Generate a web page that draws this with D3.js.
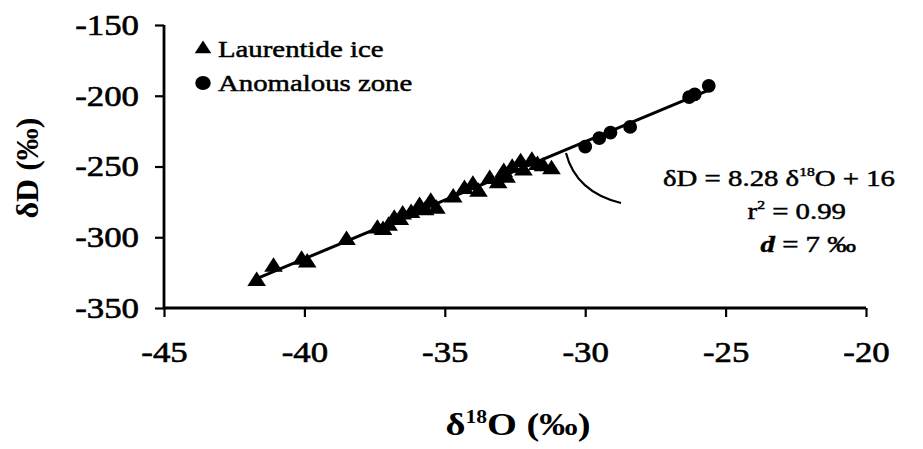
<!DOCTYPE html>
<html>
<head>
<meta charset="utf-8">
<script src="https://cdn.jsdelivr.net/npm/d3@7"></script>
<style>
  html, body { margin: 0; padding: 0; background: #fff; }
  svg { display: block; }
</style>
</head>
<body>
<svg id="chart" width="923" height="449" font-family="Liberation Serif"></svg>
<script>
// Stable isotope data: δ18O (‰) vs δD (‰)
const laurentideO = [-41.7, -41.1, -40.1, -39.9, -38.5, -37.4, -37.2, -37.0, -36.8, -36.6, -36.5, -36.2, -35.9, -35.7, -35.5, -35.3, -34.7, -34.3, -34.0, -33.8, -33.4, -33.1, -32.9, -32.8, -32.6, -32.3, -32.2, -31.9, -31.7, -31.5, -31.2];
const laurentideD = [-331, -321, -316, -318, -302, -294, -295, -292, -287, -288, -284, -283, -278, -281, -275, -280, -272, -266, -263, -268, -259, -262, -254, -258, -251, -247, -253, -246, -249, -250, -252];
const anomalousO = [-30.0, -29.5, -29.1, -28.4, -26.3, -26.1, -25.6];
const anomalousD = [-236, -230, -226, -222, -201, -199, -193];

const xTicks = [-45, -40, -35, -30, -25, -20];
const yTicks = [-350, -300, -250, -200, -150];

// Regression line δD = 8.28 δ18O + 16
const fitSlope = 8.28;
const fitIntercept = 16;
const fitRange = [-41.7, -25.6];

const FONT = '"Liberation Serif"';
const SX = 1.2;              // horizontal widening of the lettering
const svg = d3.select("#chart");

const x = d3.scaleLinear().domain([-45, -20]).range([164, 866]);
const y = d3.scaleLinear().domain([-350, -150]).range([308, 25]);

const fmt = d => (d < 0 ? "-" : "") + Math.abs(d);

// Axes
const xAxis = svg.append("g")
  .attr("transform", `translate(0,${y(-350)})`)
  .call(d3.axisBottom(x).tickValues(xTicks).tickSize(9).tickPadding(24).tickFormat(fmt));
const yAxis = svg.append("g")
  .attr("transform", `translate(${x(-45)},0)`)
  .call(d3.axisLeft(y).tickValues(yTicks).tickSize(9).tickPadding(18).tickFormat(fmt));

[xAxis, yAxis].forEach(g => {
  g.attr("font-family", "Liberation Serif").attr("font-size", 29);
  g.select(".domain").remove();
  g.selectAll(".tick line").attr("stroke", "#000").attr("stroke-width", 2.2);
  g.selectAll(".tick text")
    .style("font-family", FONT)
    .style("font-size", "29px")
    .attr("fill", "#000")
    .attr("stroke", "#000").attr("stroke-width", 0.6)
    .attr("transform", `scale(${SX},1)`);
});
// keep the y labels' right edge at the same offset after widening
yAxis.selectAll(".tick text").attr("x", -(9 + 16) / SX);

svg.append("line").attr("x1", x(-45)).attr("x2", x(-20)).attr("y1", y(-350)).attr("y2", y(-350))
  .attr("stroke", "#000").attr("stroke-width", 2.8);
svg.append("line").attr("x1", x(-45)).attr("x2", x(-45)).attr("y1", y(-350)).attr("y2", y(-150))
  .attr("stroke", "#000").attr("stroke-width", 2.8);

// Axis titles
svg.append("text")
  .attr("transform", `translate(518,435) scale(${SX},1)`)
  .attr("text-anchor", "middle")
  .style("font-family", FONT).style("font-size", "32px").style("font-weight", "bold")
  .html('δ<tspan dy="-12" font-size="18">18</tspan><tspan dy="12">O (‰)</tspan>');

svg.append("text")
  .attr("transform", "translate(38,168) rotate(-90)")
  .attr("text-anchor", "middle")
  .style("font-family", FONT).style("font-size", "32px").style("font-weight", "bold")
  .text("δD (‰)");

// Regression line
svg.append("line")
  .attr("x1", x(fitRange[0])).attr("y1", y(fitSlope * fitRange[0] + fitIntercept))
  .attr("x2", x(fitRange[1])).attr("y2", y(fitSlope * fitRange[1] + fitIntercept))
  .attr("stroke", "#000").attr("stroke-width", 3);

// Points
const tri = d3.symbol().type(d3.symbolTriangle).size(120);
const circ = d3.symbol().type(d3.symbolCircle).size(150);

svg.append("g").selectAll("path")
  .data(laurentideO.map((o, i) => [o, laurentideD[i]]))
  .join("path")
  .attr("d", tri)
  .attr("transform", d => `translate(${x(d[0])},${y(d[1])}) scale(1.12,1)`)
  .attr("fill", "#000");

svg.append("g").selectAll("path")
  .data(anomalousO.map((o, i) => [o, anomalousD[i]]))
  .join("path")
  .attr("d", circ)
  .attr("transform", d => `translate(${x(d[0])},${y(d[1])})`)
  .attr("fill", "#000");

// Legend
const legendRows = [
  { label: "Laurentide ice", symbol: d3.symbolTriangle, size: 95, cy: 49, base: 57 },
  { label: "Anomalous zone", symbol: d3.symbolCircle, size: 150, cy: 83, base: 91 }
];
const legend = svg.append("g").selectAll("g").data(legendRows).join("g");
legend.append("path")
  .attr("d", d => d3.symbol().type(d.symbol).size(d.size)())
  .attr("transform", d => `translate(203,${d.cy}) scale(1.12,1)`)
  .attr("fill", "#000");
legend.append("text")
  .attr("transform", d => `translate(218,${d.base}) scale(${SX},1)`)
  .style("font-family", FONT).style("font-size", "24px")
  .attr("stroke", "#000").attr("stroke-width", 0.5)
  .text(d => d.label);

// Annotation with leader curve
svg.append("path")
  .attr("d", "M566,153 Q576,192 621,203")
  .attr("fill", "none").attr("stroke", "#000").attr("stroke-width", 2.2);

const annLines = [
  { x: 895, y: 186, html: 'δD = 8.28 δ<tspan dy="-10" font-size="13">18</tspan><tspan dy="10">O + 16</tspan>' },
  { x: 846, y: 219, html: 'r<tspan dy="-10" font-size="13">2</tspan><tspan dy="10"> = 0.99</tspan>' },
  { x: 856, y: 252, html: '<tspan font-style="italic" font-weight="bold">d</tspan> = 7 ‰' }
];
svg.append("g").selectAll("text").data(annLines).join("text")
  .attr("transform", d => `translate(${d.x},${d.y}) scale(${SX},1)`)
  .attr("text-anchor", "end")
  .style("font-family", FONT).style("font-size", "24px")
  .attr("stroke", "#000").attr("stroke-width", 0.5)
  .html(d => d.html);
</script>
</body>
</html>
